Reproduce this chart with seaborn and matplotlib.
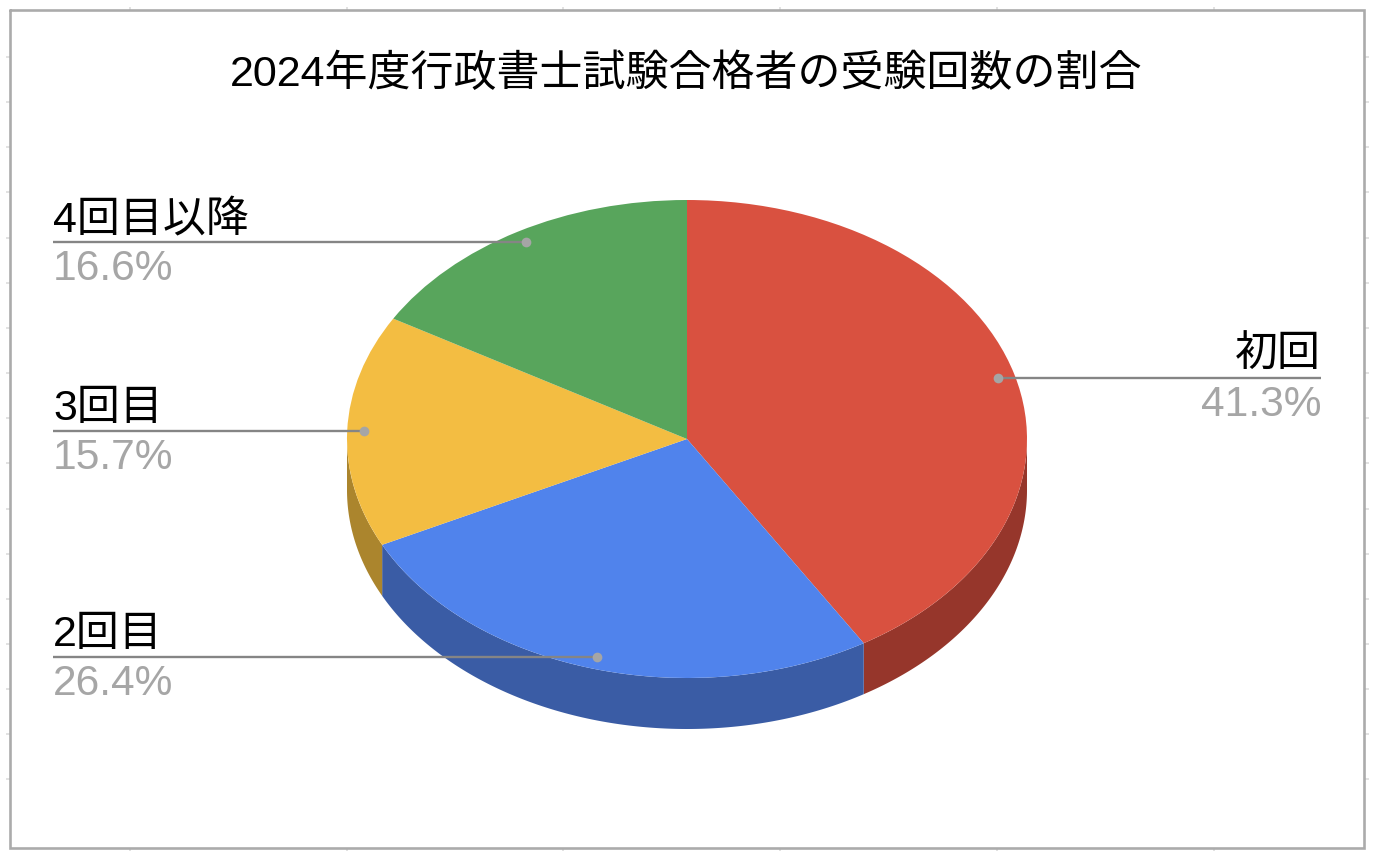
import numpy as np
import matplotlib
matplotlib.use("Agg")
import matplotlib.pyplot as plt
import seaborn as sns

TITLE = "2024年度行政書士試験合格者の受験回数の割合"
categories = ["初回", "2回目", "3回目", "4回目以降"]
shares = [41.3, 26.4, 15.7, 16.6]
top_colors = ["#D95140", "#5083EC", "#F3BD42", "#58A55C"]
side_colors = ["#96362B", "#3A5CA5", "#AB852D", "#3D7340"]

W, H = 1374, 858
CX, CY, RX, RY, DEPTH = 687, 439, 340, 239, 51
FONT = ["Liberation Sans", "Noto Sans CJK JP", "DejaVu Sans"]

sns.set_theme(style="white")
palette = sns.color_palette(top_colors)
plt.rcParams["font.family"] = FONT

fig = plt.figure(figsize=(W / 100, H / 100), dpi=100, facecolor="white")

# Pie axes: one data unit equals the ellipse radius on each axis
ax = fig.add_axes([0, 0, 1, 1], zorder=1)
ax.pie(shares, colors=palette, startangle=90, counterclock=False, radius=1,
       wedgeprops=dict(linewidth=0))
ax.set_aspect("auto")
ax.set_xlim(-CX / RX, (W - CX) / RX)
ax.set_ylim((CY - H) / RY, CY / RY)
ax.set_axis_off()

values = np.array(shares, dtype=float)
edges = np.concatenate([[0], np.cumsum(values)]) / values.sum() * 2 * np.pi
depth = DEPTH / RY

# Side walls of the thick disc: only the front half is visible
for a0, a1, col in zip(edges[:-1], edges[1:], side_colors):
    lo, hi = max(a0, np.pi / 2), min(a1, 3 * np.pi / 2)
    if hi <= lo:
        continue
    t = np.linspace(lo, hi, 200)
    xs = np.sin(t)
    ys = np.cos(t)
    ax.fill(np.r_[xs, xs[::-1]], np.r_[ys, ys[::-1] - depth],
            color=col, linewidth=0, zorder=0)

# Overlay in pixel coordinates for frame, leaders and labels
ov = fig.add_axes([0, 0, 1, 1], zorder=2)
ov.patch.set_alpha(0)
ov.set_xlim(0, W)
ov.set_ylim(H, 0)
ov.set_axis_off()

LEFT, RIGHT, TOP, BOTTOM = 10, 1363.5, 10, 848
tick_xs = 130 + 216.7 * np.arange(6)
tick_ys = 57 + 45.15 * np.arange(17)
ov.vlines(tick_xs, TOP - 3, TOP, color="#dddddd", lw=1.2)
ov.vlines(tick_xs, BOTTOM, BOTTOM + 3, color="#dddddd", lw=1.2)
ov.hlines(tick_ys, LEFT - 4, LEFT, color="#dddddd", lw=1.2)
ov.hlines(tick_ys, RIGHT, RIGHT + 5, color="#dddddd", lw=1.2)
ov.plot([LEFT, RIGHT, RIGHT, LEFT, LEFT], [TOP, TOP, BOTTOM, BOTTOM, TOP],
        color="#ababab", lw=1.9, solid_joinstyle="miter")

ov.text(686, 86.5, TITLE, ha="center", va="baseline", fontsize=30.95,
        color="black", family=FONT)

mids = (edges[:-1] + edges[1:]) / 2
for name, share, mid in zip(categories, shares, mids):
    dx = CX + 0.95 * RX * np.sin(mid)
    dy = CY - 0.95 * RY * np.cos(mid)
    right_side = np.sin(mid) > 0
    lx = 1321 if right_side else 53
    ha = "right" if right_side else "left"
    ov.plot([lx, dx], [dy, dy], color="#858585", lw=1.7, solid_capstyle="butt")
    ov.plot([dx], [dy], "o", color="#a5a5a5", ms=7, mew=0)
    ov.text(lx, dy - 11, name, ha=ha, va="baseline", fontsize=30.95,
            color="black", family=FONT)
    ov.text(lx, dy + 38, f"{share:.1f}%", ha=ha, va="baseline", fontsize=30.6,
            color="#a6a6a6", family=FONT)

fig.savefig("out.png", dpi=100, facecolor="white")
